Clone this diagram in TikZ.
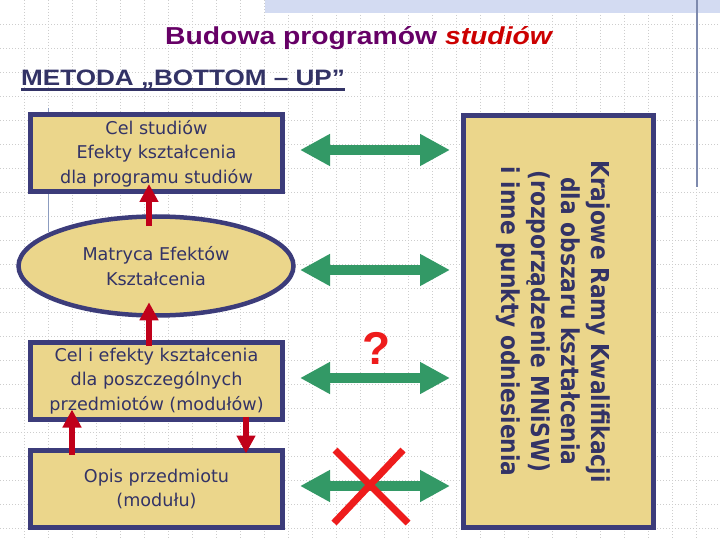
\documentclass[tikz,border=0pt]{standalone}
\usepackage{fontspec}
\setmainfont{DejaVu Sans}
\newfontfamily\titlefont[FakeStretch=1.155]{Liberation Sans}
\newfontfamily\metfont[FakeStretch=1.17]{Liberation Sans}
\newfontfamily\arialfont{Liberation Sans}
\newfontfamily\rotfont[FakeStretch=0.88]{DejaVu Sans}
\usetikzlibrary{arrows.meta,shapes.geometric}
\definecolor{gridc}{HTML}{CDCDCD}
\definecolor{bandc}{HTML}{D3DBF2}
\definecolor{vlinec}{HTML}{7E8AAE}
\definecolor{thinc}{HTML}{8C9CC0}
\definecolor{boxborder}{HTML}{3C3C7A}
\definecolor{boxfill}{HTML}{EBD68B}
\definecolor{navy}{HTML}{333366}
\definecolor{titlepurple}{HTML}{660066}
\definecolor{titlered}{HTML}{CC0000}
\definecolor{darkred}{HTML}{C0001A}
\definecolor{arrgreen}{HTML}{339966}
\definecolor{xred}{HTML}{EE1C1C}
\tikzset{
  gridline/.style={draw=gridc, line width=0.7pt, dash pattern=on 1pt off 2pt},
  box/.style={draw=boxborder, fill=boxfill, line width=5pt, text=navy, align=center,
    font=\fontsize{17.6}{24.5}\selectfont, inner sep=0pt},
  rectbox/.style={box, rectangle, minimum width=252pt, minimum height=77pt},
  redarr/.style={draw=darkred, line width=6.5pt, -{Triangle[width=18pt,length=18pt]}},
  greenarr/.style={draw=arrgreen, line width=10pt,
    {Triangle[width=30pt,length=30pt]}-{Triangle[width=30pt,length=30pt]}},
  crossline/.style={draw=xred, line width=7pt}
}
\begin{document}
\begin{tikzpicture}[x=1pt,y=-1pt]
\useasboundingbox (0,0) rectangle (720,540);
\fill[white] (0,0) rectangle (720,540);
% background grid
\foreach \i in {24,48,...,696} \draw[gridline] (\i,0) -- (\i,540);
\foreach \j in {24,48,...,528} \draw[gridline] (0,\j) -- (720,\j);
\fill[bandc] (265,0) rectangle (720,13);
\draw[vlinec, line width=1.3pt] (697,0) -- (697,187);
\draw[thinc, line width=0.8pt] (48,108) -- (48,232);
% titles
\node[anchor=base west, inner sep=0pt, text=titlepurple,
  font=\titlefont\bfseries\fontsize{24.5}{28}\selectfont] (title) at (165,44.5)
  {Budowa programów \textcolor{titlered}{\itshape studiów}};
\node[anchor=base west, inner sep=0pt, text=navy,
  font=\metfont\bfseries\fontsize{22.3}{26}\selectfont] (met) at (21,85.5)
  {METODA „BOTTOM – UP”};
\draw[navy, line width=2.3pt] ([yshift=-4pt]met.base west) -- ([yshift=-4pt]met.base east);
% left column
\node[rectbox] (c1) at (156.5,153.5) {Cel studiów\\Efekty kształcenia\\dla programu studiów};
\node[box, ellipse, line width=4.5pt, minimum width=275pt, minimum height=99pt] (ell) at (156,266)
  {Matryca Efektów\\Kształcenia};
\node[rectbox] (c3) at (156.5,381) {Cel i efekty kształcenia\\dla poszczególnych\\przedmiotów (modułów)};
\node[rectbox] (c4) at (156.5,489) {Opis przedmiotu\\(modułu)};
% right box
\node[box, rectangle, minimum width=190pt, minimum height=412pt] (kr) at (558.5,321.5) {};
\node[rotate=-90, inner sep=0pt, text=navy, align=center,
  font=\rotfont\bfseries\fontsize{24.7}{30}\selectfont] (krt) at (553.5,321.5)
  {Krajowe Ramy Kwalifikacji\\dla obszaru kształcenia\\(rozporządzenie MNiSW)\\i inne punkty odniesienia};
% red arrows
\draw[redarr] ([xshift=-7pt,yshift=-11.5pt]ell.north) -- ([xshift=-7.5pt,yshift=10.5pt]c1.south);
\draw[redarr] ([xshift=-7.5pt,yshift=-5.5pt]c3.north) -- ([xshift=-7pt,yshift=15.5pt]ell.south);
\draw[redarr] ([xshift=-84.5pt,yshift=-6.5pt]c4.north) -- ([xshift=-84.5pt,yshift=12.5pt]c3.south);
\draw[redarr] ([xshift=89.5pt,yshift=5.5pt]c3.south) -- ([xshift=89.5pt,yshift=-5.5pt]c4.north);
% green arrows
\coordinate (g1l) at (300,150); \coordinate (g1r) at (450,150);
\coordinate (g2l) at (300,270); \coordinate (g2r) at (450,270);
\coordinate (g3l) at (300,378); \coordinate (g3r) at (450,378);
\coordinate (g4l) at (300,486); \coordinate (g4r) at (450,486);
\draw[greenarr] (g1l) -- (g1r);
\draw[greenarr] (g2l) -- (g2r);
\draw[greenarr] (g3l) -- (g3r);
\draw[greenarr] (g4l) -- (g4r);
% question mark and cross
\node[inner sep=0pt, text=xred, font=\arialfont\bfseries\fontsize{46}{46}\selectfont] (q) at (377,348) {?};
\draw[crossline] (335,450) -- (408,523);
\draw[crossline] (403,450) -- (334,523);
\end{tikzpicture}
\end{document}
